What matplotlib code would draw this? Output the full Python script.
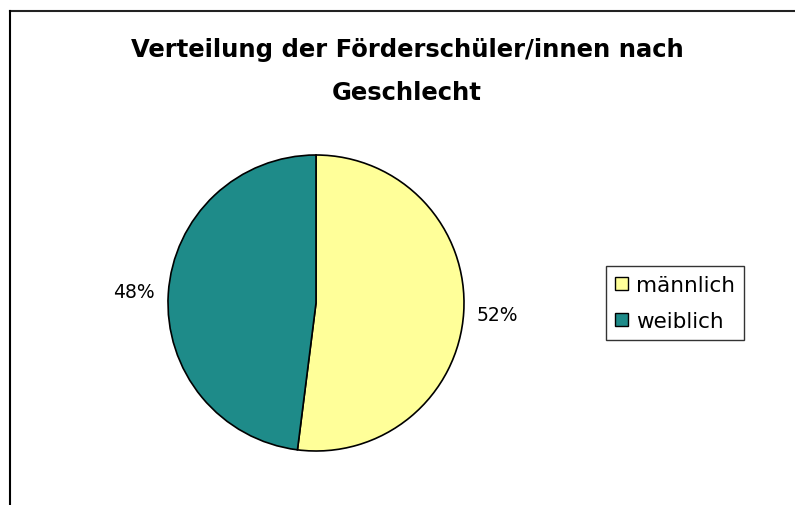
import matplotlib.pyplot as plt
from matplotlib.lines import Line2D
from matplotlib.patches import Patch

# data
categories = ['männlich', 'weiblich']
shares = [52, 48]
colors = ['#FFFF99', '#1E8B89']
title = 'Verteilung der Förderschüler/innen nach\nGeschlecht'

plt.rcParams['font.family'] = ['DejaVu Sans']

fig = plt.figure(figsize=(7.95, 5.06), dpi=100)
W, H = 795, 506

# chart frame (only top and left edge visible)
fig.add_artist(Line2D([10 / W, 1.0], [1 - 12 / H, 1 - 12 / H], color='#222222', lw=1.5))
fig.add_artist(Line2D([10 / W, 10 / W], [0.0, 1 - 12 / H], color='black', lw=1.5))

# pie area
cx, cy, r = 316, 304, 148
ax = fig.add_axes([(cx - r) / W, (H - cy - r) / H, 2 * r / W, 2 * r / H])
wedges, texts, autotexts = ax.pie(
    shares, colors=colors, startangle=90, counterclock=False,
    autopct='%1.0f%%', pctdistance=1.23,
    wedgeprops=dict(edgecolor='black', linewidth=1.2),
    textprops=dict(fontsize=13.5, color='black'))
ax.set_xlim(-1, 1)
ax.set_ylim(-1, 1)
ax.set_aspect('equal')
ax.axis('off')

fig.text(407 / W, 1 - 71 / H, title, ha='center', va='center',
         fontsize=17.5, fontweight='bold', linespacing=2.0)

handles = [Patch(facecolor=c, edgecolor='black', linewidth=1) for c in colors]
leg = fig.legend(handles, categories, loc='center', bbox_to_anchor=(675 / W, 1 - 304 / H),
                 frameon=True, fancybox=False, edgecolor='black', fontsize=15.5,
                 handlelength=0.6, handleheight=0.6, handletextpad=0.4,
                 labelspacing=0.75, borderpad=0.4, borderaxespad=0)
leg.get_frame().set_linewidth(1.0)

fig.savefig('out.png', dpi=100, facecolor='white')
